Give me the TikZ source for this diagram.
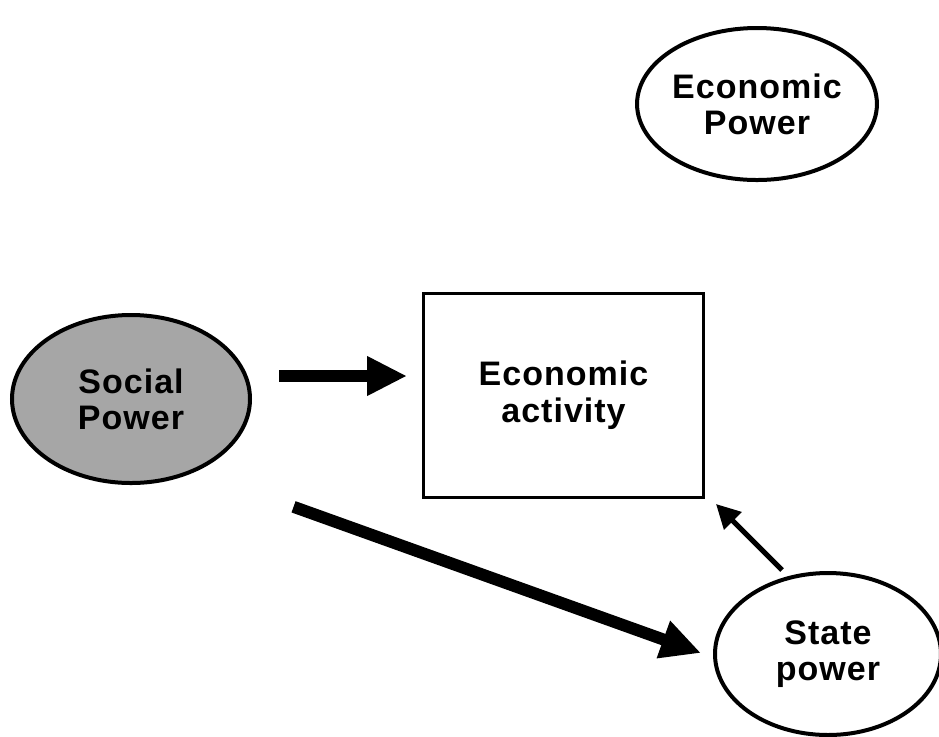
\documentclass[tikz,border=0pt]{standalone}
\usepackage{fontspec}
\setmainfont{Liberation Sans}[LetterSpace=3]
\usetikzlibrary{shapes.geometric,arrows.meta,positioning}

\begin{document}
\begin{tikzpicture}[x=0.5pt,y=-0.5pt,
    pw/.style={ellipse,draw,line width=2pt,inner sep=0,
      minimum width=119pt,minimum height=84pt,
      font=\fontsize{17}{18}\selectfont\bfseries,align=center},
    act/.style={rectangle,draw,line width=1.5pt,inner sep=0,
      minimum width=140pt,minimum height=102pt,
      font=\fontsize{17}{18.5}\selectfont\bfseries,align=center},
    fat/.style={line width=6pt,-{Triangle[length=20pt,width=18.5pt]}},
    thin/.style={line width=2.5pt,-{Triangle[length=12pt,width=12pt]}}]
    \useasboundingbox (0,0) rectangle (939,736);
    \node[pw,minimum height=76pt] (econ) at (757,104) {Economic\\Power};
    \node[pw,fill={rgb,255:red,166;green,166;blue,166}] (social) at (131,399) {Social\\Power};
    \node[act] (activity) at (563.5,395.5) {Economic\\activity};
    \node[pw,minimum width=113pt,minimum height=81pt] (state) at (828,654) {State\\power};
    \draw[fat] ([shift={(27,-23)}]social.east) -- ([shift={(-15,-19.5)}]activity.west);
    \draw[fat] ([shift={(77,47)}]social.south east) -- ([shift={(-12,-1)}]state.west);
    \draw[thin] ([shift={(-46,-1)}]state.north) -- ([shift={(11,5)}]activity.south east);
\end{tikzpicture}
\end{document}
